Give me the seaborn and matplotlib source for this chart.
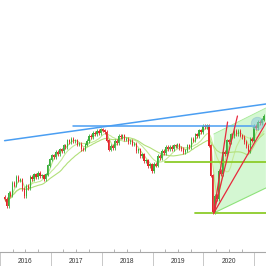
import numpy as np
import pandas as pd
import matplotlib
matplotlib.use("Agg")
import matplotlib.pyplot as plt
import matplotlib.dates as mdates
import seaborn as sns

# ---------------- data ----------------
start_date = "2016-02-03"
end_date = "2021-03-11"
closes = [
    9300, 8850, 9650, 9500, 10250, 10100, 10600, 10400, 10450, 9900, 9450,
    10050, 9950, 10600, 10500, 10750, 10600, 10850, 10650, 10700, 10500, 10750,
    11300, 11650, 11900, 11800, 12100, 12000, 12250, 12150, 12500, 12400,
    12800, 12700, 12900, 12750, 12800, 12550, 12600, 12300, 12250, 12550,
    12750, 13050, 13000, 13250, 13200, 13350, 13250, 13450, 13400, 13300,
    12800, 12250, 12450, 12350, 12750, 12650, 13050, 13000, 13100, 12850,
    12900, 12700, 12750, 12550, 12600, 12150, 12250, 11850, 11950, 11550,
    11600, 11250, 11350, 10950, 11400, 11300, 11850, 11750, 12150, 12050,
    12400, 12300, 12400, 12300, 12500, 12450, 12550, 12350, 12300, 12100,
    12200, 12500, 12400, 12900, 12800, 13150, 13050, 13400, 13300, 13650,
    13600, 13700, 12500, 10700, 8500, 9450, 9300, 10950, 10800, 12100,
    12000, 12800, 12700, 13150, 13050, 13350, 13200, 13350, 13100, 13000,
    12700, 12450, 12150, 12900, 12800, 13650, 13550, 13900, 13850, 14050, 14250,
]
first_open = 9400
wick = 110
ma_windows = [4, 10, 20]

year_labels = ["2016", "2017", "2018", "2019", "2020"]

# trend lines: (start date, start value, end date, end value)
blue_lines = [
    ("2016-02-03", 12780, "2021-03-25", 14980),
    ("2017-06-12", 13660, "2021-01-08", 13660),
]
green_levels = [
    ("2019-03-28", 11530, "2021-03-25", 11530),
    ("2019-11-03", 8440, "2021-03-25", 8440),
]
fan_apex = ("2020-03-16", 8440)
red_fan_ends = [("2020-06-23", 13900), ("2020-09-02", 14260), ("2021-03-25", 13840)]
fan_zone = [("2020-03-16", 8440), ("2020-03-16", 13180),
            ("2021-03-25", 14740), ("2021-03-25", 9940)]
circle_mark = ("2021-01-22", 13840)

x_range = ("2016-02-04", "2021-03-26")
y_range = (6100, 21220)

# ---------------- figure ----------------
sns.set_theme(style="white")
plt.rcParams["font.family"] = ["Liberation Sans", "DejaVu Sans"]

fig = plt.figure(figsize=(2.66, 2.66), dpi=100)
ax = fig.add_axes([0, 14 / 266, 1, 252 / 266])
ax.set_facecolor("white")

d = lambda s: mdates.date2num(pd.to_datetime(s))

dates = pd.date_range(start_date, end_date, periods=len(closes))
xs = mdates.date2num(dates)
c = np.array(closes, dtype=float)
o = np.concatenate([[first_open], c[:-1]])
hi = np.maximum(o, c) + wick
lo = np.minimum(o, c) - wick
up = c >= o
cols = np.where(up, "#3cae3c", "#e3262c")

df = pd.DataFrame({"date": dates, "close": c})
for w in ma_windows:
    df[f"ma{w}"] = df["close"].rolling(w, min_periods=1).mean()

# fan zone
poly = [(d(a), b) for a, b in fan_zone]
ax.fill([p[0] for p in poly], [p[1] for p in poly], color="#cdf6ca", alpha=0.85,
        lw=0, zorder=1)
ax.plot([poly[0][0], poly[3][0]], [poly[0][1], poly[3][1]], color="#8ee27a", lw=0.8, zorder=2)
ax.plot([poly[1][0], poly[2][0]], [poly[1][1], poly[2][1]], color="#a8ea98", lw=0.6, zorder=2)

# moving averages
ma_colors = ["#bde68a", "#c6ea98", "#b2e07a"]
for w, mc in zip(ma_windows, ma_colors):
    sns.lineplot(x=mdates.date2num(df["date"]), y=df[f"ma{w}"], ax=ax, color=mc,
                 lw=0.8, zorder=3, legend=False)

# candles
ax.vlines(xs, lo, hi, colors=cols, lw=0.6, zorder=4)
ax.bar(xs, np.abs(c - o) + 20, bottom=np.minimum(o, c) - 10, width=9,
       color=cols, lw=0, zorder=5)

# trend lines
for (s0, v0, s1, v1) in blue_lines:
    ax.plot([d(s0), d(s1)], [v0, v1], color="#4a9ef2", lw=1.1, zorder=6)
for (s0, v0, s1, v1) in green_levels:
    ax.plot([d(s0), d(s1)], [v0, v1], color="#8ccc2a", lw=1.3, zorder=6)
for (s1, v1) in red_fan_ends:
    ax.plot([d(fan_apex[0]), d(s1)], [fan_apex[1], v1], color="#e8283c", lw=0.9, zorder=7)
ax.scatter([d(circle_mark[0])], [circle_mark[1]], s=80, color="#8cc8dc", alpha=0.55,
           edgecolor="#8cbcd0", lw=0.6, zorder=8)

ax.set_xlim(d(x_range[0]), d(x_range[1]))
ax.set_ylim(*y_range)
ax.set_ylabel("")
ax.set_xlabel("")
ax.set_yticks([])

for sp in ["top", "left", "right"]:
    ax.spines[sp].set_visible(False)
ax.spines["bottom"].set_color("#a8a8a8")
ax.spines["bottom"].set_linewidth(0.8)

years = [int(y) for y in year_labels] + [int(year_labels[-1]) + 1]
ax.set_xticks([d(f"{y}-01-01") for y in years])
ax.set_xticklabels([])
ax.tick_params(axis="x", which="major", length=11, width=0.7, color="#c8c8c8",
               direction="out", bottom=True)
ax.set_xticks([d(f"{y}-07-02") for y in year_labels], minor=True)
ax.set_xticklabels(year_labels, minor=True, fontsize=4.8, color="#333333")
ax.tick_params(axis="x", which="minor", length=0, pad=4.5)

qx = [d(f"{y}-{m:02d}-01") for y in years for m in (4, 7, 10)]
ax.vlines(qx, 0, 0.01, transform=ax.get_xaxis_transform(), colors="#a8a8a8", lw=0.6,
          clip_on=True)

fig.savefig("out.png", dpi=100, facecolor="white")
